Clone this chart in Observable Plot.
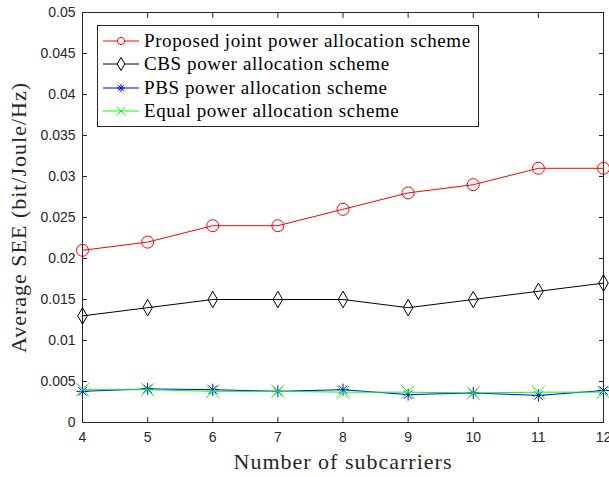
<!DOCTYPE html>
<html><head><meta charset="utf-8">
<script src="https://cdn.jsdelivr.net/npm/d3@7"></script>
<script src="https://cdn.jsdelivr.net/npm/@observablehq/plot@0.6"></script>
<style>
body{margin:0;background:#fff;}
#wrap{position:relative;width:609px;height:477px;}
#legend{position:absolute;left:97px;top:25px;width:382px;height:102px;border:1px solid #262626;background:#fff;box-sizing:border-box;font-family:"Liberation Serif",serif;font-size:19px;letter-spacing:0.6px;color:#000;padding-top:3px;}
#legend .row{display:flex;align-items:center;height:23.5px;white-space:nowrap;}
#legend svg{margin-left:5px;margin-right:5px;}
g[aria-label="x-axis label"] text, g[aria-label="y-axis label"] text{font-family:"Liberation Serif",serif;font-size:22px;letter-spacing:1px;fill:#262626;}
</style>
</head><body>
<div id="wrap"></div>
<script>
const subcarriers = [4, 5, 6, 7, 8, 9, 10, 11, 12];
const proposed = [0.021, 0.022, 0.024, 0.024, 0.026, 0.028, 0.029, 0.031, 0.031];
const cbs = [0.013, 0.014, 0.015, 0.015, 0.015, 0.014, 0.015, 0.016, 0.017];
const pbs = [0.0038, 0.0041, 0.0040, 0.0038, 0.0040, 0.0034, 0.0036, 0.0033, 0.0039];
const equalPA = [0.0040, 0.0040, 0.0038, 0.0038, 0.0037, 0.0037, 0.0036, 0.0037, 0.0037];
const yTicks = [0, 0.005, 0.01, 0.015, 0.02, 0.025, 0.03, 0.035, 0.04, 0.045, 0.05];
const xTicks = [4, 5, 6, 7, 8, 9, 10, 11, 12];
const seriesNames = ["Proposed joint power allocation scheme", "CBS power allocation scheme", "PBS power allocation scheme", "Equal power allocation scheme"];

// MATLAB-style 8-armed asterisk
const star8 = {
  draw(context, size) {
    const r = Math.sqrt(size / Math.PI);
    for (let k = 0; k < 4; k++) {
      const a = k * Math.PI / 4;
      const dx = r * Math.cos(a), dy = r * Math.sin(a);
      context.moveTo(-dx, -dy);
      context.lineTo(dx, dy);
    }
  }
};
const symMap = {circle: d3.symbolCircle, diamond: d3.symbolDiamond, asterisk: star8, times: d3.symbolTimes};

const series = [
  {name: seriesNames[0], values: proposed, color: "#ff0000", symbol: "circle", r: 6},
  {name: seriesNames[1], values: cbs, color: "#000000", symbol: "diamond", r: 5},
  {name: seriesNames[2], values: pbs, color: "#0000ff", symbol: "asterisk", r: 6},
  {name: seriesNames[3], values: equalPA, color: "#00ff00", symbol: "times", r: 6}
];

const marks = [];
for (const s of series) {
  const data = subcarriers.map((x, i) => ({x, y: s.values[i]}));
  marks.push(Plot.line(data, {x: "x", y: "y", stroke: s.color, strokeWidth: 1}));
  marks.push(Plot.dot(data, {x: "x", y: "y", stroke: s.color, fill: "none", symbol: symMap[s.symbol], r: s.r, strokeWidth: 1}));
}

const fmt = d => String(+d.toFixed(3));

const chart = Plot.plot({
  width: 609,
  height: 477,
  marginLeft: 82,
  marginRight: 6,
  marginTop: 12,
  marginBottom: 55,
  style: {fontFamily: "'Liberation Sans', Arial, sans-serif", fontSize: "14px", color: "#262626", background: "#fff"},
  x: {domain: [4, 12]},
  y: {domain: [0, 0.05]},
  marks: [
    Plot.axisX(xTicks, {anchor: "bottom", tickSize: -5, tickPadding: 15, tickFormat: d => String(d), label: "Number of subcarriers", labelAnchor: "center", labelArrow: "none", labelOffset: 46, fontSize: 14}),
    Plot.axisX(xTicks, {anchor: "top", tickSize: -5, tickFormat: () => "", label: null}),
    Plot.axisY(yTicks, {anchor: "left", tickSize: -5, tickPadding: 12, tickFormat: fmt, label: "Average SEE (bit/Joule/Hz)", labelAnchor: "center", labelArrow: "none", labelOffset: 72, fontSize: 14}),
    Plot.axisY(yTicks, {anchor: "right", tickSize: -5, tickFormat: () => "", label: null}),
    Plot.frame({stroke: "#262626"}),
    ...marks
  ]
});

const wrap = document.getElementById("wrap");
wrap.appendChild(chart);

const legend = document.createElement("div");
legend.id = "legend";
for (const s of series) {
  const row = document.createElement("div");
  row.className = "row";
  const g = d3.create("svg").attr("width", 36).attr("height", 20);
  g.append("line").attr("x1", 0).attr("x2", 36).attr("y1", 10).attr("y2", 10).attr("stroke", s.color).attr("stroke-width", 1);
  g.append("path").attr("transform", "translate(18,10)").attr("d", d3.symbol(symMap[s.symbol], s.symbol === "circle" ? 40 : 50)()).attr("fill", s.symbol === "circle" || s.symbol === "diamond" ? "#fff" : "none").attr("stroke", s.color).attr("stroke-width", 1);
  row.appendChild(g.node());
  const span = document.createElement("span");
  span.textContent = s.name;
  row.appendChild(span);
  legend.appendChild(row);
}
wrap.appendChild(legend);
</script>
</body></html>
